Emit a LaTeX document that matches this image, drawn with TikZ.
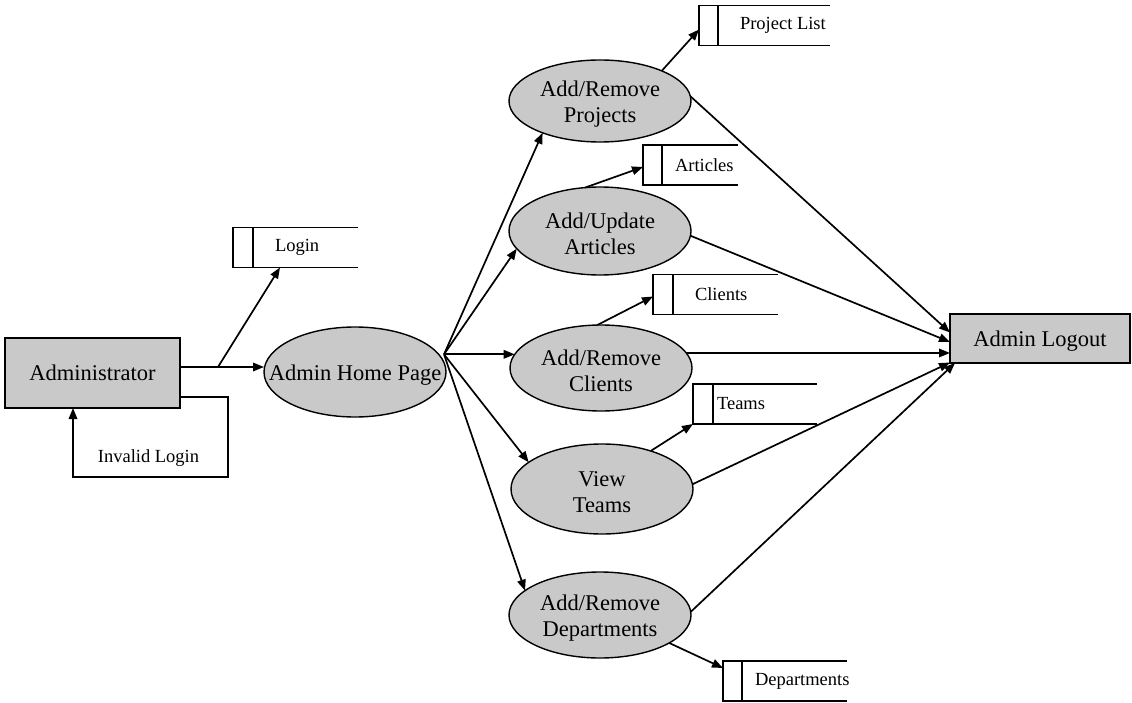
\documentclass[tikz,border=0pt]{standalone}
\usepackage{fontspec}
\setmainfont{Liberation Serif}
\usetikzlibrary{shapes.geometric,arrows.meta,calc}

% open-ended data store: name, centre x, centre y, width, divider offset, label, label offset
\newcommand\dstore[7]{%
  \node[storebox,minimum width=#4pt] (#1) at (#2,#3) {};
  \draw[storeline] (#1.north east) -- (#1.north west) -- (#1.south west) -- (#1.south east);
  \draw[storeline] ([xshift=#5pt]#1.north west) -- ([xshift=#5pt]#1.south west);
  \node[smalltext,anchor=west] (#1-label) at ([xshift=#7pt]#1.west) {#6};
}

\begin{document}
\begin{tikzpicture}[x=1pt,y=-1pt,
  every node/.style={inner sep=0pt,outer sep=0pt},
  flow/.style={line width=1.7pt,-{Triangle[length=11pt,width=8.5pt]}},
  bigtext/.style={font=\fontsize{22.5}{26.5}\selectfont,align=center},
  procell/.style={ellipse,draw,line width=1.4pt,fill=gray!42,
    minimum width=182pt,minimum height=86pt,
    label={[bigtext,yshift=-3pt]center:#1}},
  entity/.style={rectangle,draw,line width=1.5pt,fill=gray!42,bigtext,
    text depth=0pt,text height=15pt},
  storebox/.style={rectangle,minimum height=40pt},
  storeline/.style={line width=1.4pt},
  smalltext/.style={font=\fontsize{18.5}{22}\selectfont}]
\useasboundingbox (0,0) rectangle (1132,703);

% entities and processes
\node[entity,minimum width=175pt,minimum height=70pt] (admin) at (92.5,373) {Administrator};
\node[procell={Admin Home Page},minimum height=90pt] (home) at (355,372) {};
\node[procell={Add/Remove\\Projects},minimum height=82pt] (proj) at (600,101) {};
\node[procell={Add/Update\\Articles},minimum height=88pt] (art) at (600,231) {};
\node[procell={Add/Remove\\Clients}] (cli) at (601,368) {};
\node[procell={View\\Teams},minimum height=90pt] (team) at (602,489) {};
\node[procell={Add/Remove\\Departments}] (dep) at (600,615) {};
\node[entity,minimum width=180pt,minimum height=49pt] (logout) at (1040,338.5) {Admin Logout};

% data stores
\dstore{login}{295.5}{247.5}{125}{20}{Login}{42}
\dstore{plist}{764.5}{25.5}{131}{19}{Project List}{41}
\dstore{artst}{690.5}{165}{95}{19}{Articles}{32}
\dstore{clist}{715.5}{294.5}{125}{20}{Clients}{42}
\dstore{teamst}{755}{404}{124}{20}{Teams}{24}
\dstore{depst}{785}{681}{124}{19}{Departments}{32}

% login flows
\coordinate (fork) at ([xshift=38pt,yshift=6pt]admin.east);
\draw[flow] ([yshift=6pt]admin.east) -- ([yshift=6pt]admin.east -| home.west);
\draw[flow] (fork) -- ([xshift=-15.5pt]login.south);
\draw[flow] ([yshift=-24pt]admin.east) -- ++(48,0) -- ++(0,80) -| ([xshift=-19.5pt]admin.south);
\node[smalltext] (invalid) at (148.5,458) {Invalid Login};

% home page to the admin functions
\coordinate (hub) at ([xshift=-2pt]cli.171 -| home.east);
\draw[flow] (hub) -- (proj.209);
\draw[flow] (hub) -- (art.192);
\draw[flow] (hub) -- (cli.171);
\draw[flow] (hub) -- (team.160);
\draw[flow] (hub) -- (dep.162);

% functions to their stores
\draw[flow] (proj.26) -- ([yshift=-4pt]plist.west);
\draw[flow] (art.109) -- ([yshift=-2pt]artst.west);
\draw[flow] (cli.95) -- ([yshift=-2pt]clist.west);
\draw[flow] (team.38) -- (teamst.south west);
\draw[flow] (dep.-22) -- ([yshift=-7pt]depst.north west);

% functions to logout
\draw[flow] (proj.3) -- ([yshift=6pt]logout.west);
\draw[flow] (art.-3) -- ([yshift=-3.5pt]logout.west);
\draw[flow] (cli.10) -- (cli.10 -| logout.west);
\draw[flow] (team.3) -- ([yshift=-24pt]logout.west);
\draw[flow] (dep.2) -- ([xshift=5pt]logout.south west);
\end{tikzpicture}
\end{document}
